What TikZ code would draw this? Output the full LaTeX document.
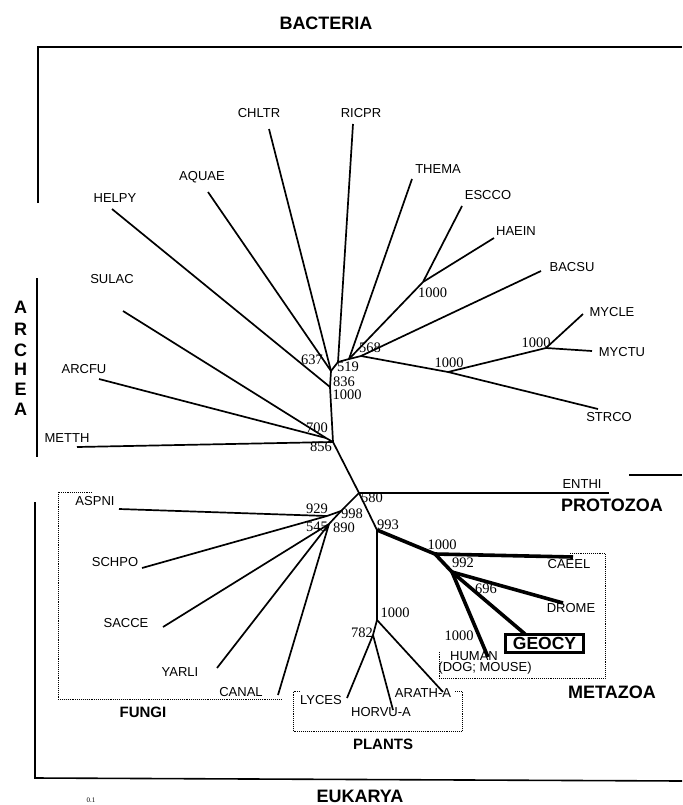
\documentclass[tikz,border=0pt]{standalone}
\usepackage{fontspec}
\setmainfont{Liberation Sans}
\newfontfamily\numfont{Liberation Serif}
\begin{document}
\begin{tikzpicture}[x=1pt,y=-1pt,
  br/.style={line width=1.7pt},
  thk/.style={line width=3.6pt},
  frame/.style={line width=1.6pt},
  dbox/.style={line width=0.8pt, dash pattern=on 0.8pt off 1.1pt},
  taxon/.style={inner sep=0pt, font=\fontsize{13}{13}\selectfont},
  boot/.style={inner sep=0pt, font=\numfont\fontsize{14.5}{14.5}\selectfont},
  grp/.style={inner sep=0pt, font=\bfseries\fontsize{18}{18}\selectfont},
  sub/.style={inner sep=0pt, font=\bfseries\fontsize{15}{15}\selectfont},
]
\useasboundingbox (0,0) rectangle (682,805);

% ---------- frames ----------
\coordinate (bA) at (38,203); \coordinate (bB) at (38,47); \coordinate (bC) at (682,47);
\draw[frame] (bA) -- (bB) -- (bC);
\coordinate (aA) at (37,278); \coordinate (aB) at (37,457);
\draw[frame] (aA) -- (aB);
\coordinate (eA) at (35,502); \coordinate (eB) at (35,778); \coordinate (eC) at (682,781);
\draw[frame] (eA) -- (eB) -- (eC);
\coordinate (pA) at (629,475); \coordinate (pB) at (682,475);
\draw[frame] (pA) -- (pB);

% dotted group boxes
\coordinate (f1) at (92,492); \coordinate (f2) at (58,492); \coordinate (f3) at (58,699); \coordinate (f4) at (282,699);
\draw[dbox] (f1) -- (f2) -- (f3) -- (f4);
\coordinate (p1) at (300,691); \coordinate (p2) at (293,691); \coordinate (p3) at (293,731);
\coordinate (p4) at (462,731); \coordinate (p5) at (462,691); \coordinate (p6) at (455,691);
\draw[dbox] (p1) -- (p2) -- (p3) -- (p4) -- (p5) -- (p6);
\coordinate (m1) at (570,553); \coordinate (m2) at (605,553); \coordinate (m3) at (605,678);
\coordinate (m4) at (439,678); \coordinate (m5) at (439,652);
\draw[dbox] (m1) -- (m2) -- (m3) -- (m4) -- (m5);

% ---------- internal nodes ----------
\coordinate (n836) at (330,387);
\coordinate (n637) at (331,371);
\coordinate (n519) at (338,362);
\coordinate (nx)   at (349,359);
\coordinate (n568) at (361,356);
\coordinate (nEH)  at (423,282);
\coordinate (nSM)  at (448,372);
\coordinate (nMY)  at (546,348);
\coordinate (n856) at (333,442);
\coordinate (n700) at (326,438);
\coordinate (n580) at (359,493);
\coordinate (n998) at (341,511);
\coordinate (n929) at (327,516);
\coordinate (n545) at (329,524);
\coordinate (n993) at (377,530);
\coordinate (nP)   at (377,620);
\coordinate (n782) at (373,635);
\coordinate (nM)   at (435,554);
\coordinate (n992) at (452,572);

% ---------- leaf ends ----------
\coordinate (lHELPY) at (112,209);
\coordinate (lAQUAE) at (208,192);
\coordinate (lCHLTR) at (269,129);
\coordinate (lRICPR) at (353,124);
\coordinate (lTHEMA) at (412,179);
\coordinate (lESCCO) at (462,206);
\coordinate (lHAEIN) at (494,238);
\coordinate (lBACSU) at (541,271);
\coordinate (lMYCLE) at (583,314);
\coordinate (lMYCTU) at (592,351);
\coordinate (lSTRCO) at (598,409);
\coordinate (lSULAC) at (123,311);
\coordinate (lARCFU) at (99,379);
\coordinate (lMETTH) at (77,447);
\coordinate (lENTHI) at (609,493);
\coordinate (lASPNI) at (119,509);
\coordinate (lSCHPO) at (142,568);
\coordinate (lSACCE) at (163,627);
\coordinate (lYARLI) at (217,668);
\coordinate (lCANAL) at (278,695);
\coordinate (lLYCES) at (347,698);
\coordinate (lHORVU) at (393,710);
\coordinate (lARATH) at (443,692);
\coordinate (lCAEEL) at (573,557);
\coordinate (lDROME) at (563,603);
\coordinate (lGEOCY) at (525,634);
\coordinate (lHUMAN) at (488,657);

% ---------- branches ----------
\draw[br] (lHELPY) -- (n836);
\draw[br] (lAQUAE) -- (n637);
\draw[br] (lCHLTR) -- (n637);
\draw[br] (n637) -- (n836);
\draw[br] (n637) -- (n519);
\draw[br] (lRICPR) -- (n519);
\draw[br] (n519) -- (nx) -- (n568);
\draw[br] (lTHEMA) -- (nx);
\draw[br] (nEH) -- (nx);
\draw[br] (lESCCO) -- (nEH);
\draw[br] (lHAEIN) -- (nEH);
\draw[br] (lBACSU) -- (n568);
\draw[br] (n568) -- (nSM);
\draw[br] (nSM) -- (lSTRCO);
\draw[br] (nSM) -- (nMY);
\draw[br] (nMY) -- (lMYCLE);
\draw[br] (nMY) -- (lMYCTU);
\draw[br] (n836) -- (n856);
\draw[br] (lSULAC) -- (n700);
\draw[br] (lARCFU) -- (n700);
\draw[br] (n700) -- (n856);
\draw[br] (lMETTH) -- (n856);
\draw[br] (n856) -- (n580);
\draw[br] (n580) -- (lENTHI);
\draw[br] (n580) -- (n998) -- (n545);
\draw[br] (n998) -- (n929);
\draw[br] (lASPNI) -- (n929);
\draw[br] (lSCHPO) -- (n929);
\draw[br] (n545) -- (lSACCE);
\draw[br] (n545) -- (lYARLI);
\draw[br] (n545) -- (lCANAL);
\draw[br] (n580) -- (n993);
\draw[br] (n993) -- (nP);
\draw[br] (nP) -- (n782);
\draw[br] (n782) -- (lLYCES);
\draw[br] (n782) -- (lHORVU);
\draw[br] (nP) -- (lARATH);
\draw[thk] (n993) -- (nM);
\draw[thk] (nM) -- (lCAEEL);
\draw[thk] (nM) -- (n992);
\draw[thk] (n992) -- (lDROME);
\draw[thk] (n992) -- (lGEOCY);
\draw[thk] (n992) -- (lHUMAN);

% ---------- taxon labels ----------
\node[taxon] (tCHLTR) at (259,113) {CHLTR};
\node[taxon] (tRICPR) at (361,113) {RICPR};
\node[taxon] (tAQUAE) at (202,177) {AQUAE};
\node[taxon] (tTHEMA) at (438,169) {THEMA};
\node[taxon] (tESCCO) at (488,195) {ESCCO};
\node[taxon] (tHAEIN) at (516,231) {HAEIN};
\node[taxon] (tHELPY) at (115,198) {HELPY};
\node[taxon] (tBACSU) at (572,267) {BACSU};
\node[taxon] (tSULAC) at (112,279) {SULAC};
\node[taxon] (tMYCLE) at (612,312) {MYCLE};
\node[taxon] (tMYCTU) at (622,352) {MYCTU};
\node[taxon] (tARCFU) at (84,369) {ARCFU};
\node[taxon] (tSTRCO) at (609,417) {STRCO};
\node[taxon] (tMETTH) at (67,438) {METTH};
\node[taxon] (tENTHI) at (582,484) {ENTHI};
\node[taxon] (tASPNI) at (95,501) {ASPNI};
\node[taxon] (tSCHPO) at (115,562) {SCHPO};
\node[taxon] (tSACCE) at (126,623) {SACCE};
\node[taxon] (tYARLI) at (180,672) {YARLI};
\node[taxon] (tCANAL) at (241,692) {CANAL};
\node[taxon] (tLYCES) at (321,700) {LYCES};
\node[taxon] (tHORVU) at (381,712) {HORVU-A};
\node[taxon] (tARATH) at (423,693) {ARATH-A};
\node[taxon] (tHUMAN) at (474,656) {HUMAN};
\node[taxon] (tDOG)   at (485,668) {(DOG; MOUSE)};
\node[taxon] (tCAEEL) at (569,564) {CAEEL};
\node[taxon] (tDROME) at (571,608) {DROME};
\node[draw, line width=2.8pt, minimum width=78pt, minimum height=18pt, inner sep=0pt,
      font=\bfseries\fontsize{17.5}{17.5}\selectfont] (tGEOCY) at (544.5,643.5) {GEOCY};

% ---------- bootstrap values ----------
\node[boot] (b637) at (312,360) {637};
\node[boot] (b519) at (348,367) {519};
\node[boot] (b568) at (370,348) {568};
\node[boot] (b836) at (344,382) {836};
\node[boot] (b1000a) at (347,395) {1000};
\node[boot] (b1000b) at (432.5,293) {1000};
\node[boot] (b1000c) at (536,343) {1000};
\node[boot] (b1000d) at (449,363) {1000};
\node[boot] (b700) at (317,428) {700};
\node[boot] (b856) at (321,447) {856};
\node[boot] (b580) at (372,498) {580};
\node[boot] (b929) at (317,509) {929};
\node[boot] (b998) at (352,514) {998};
\node[boot] (b545) at (317,527) {545};
\node[boot] (b890) at (344,528) {890};
\node[boot] (b993) at (388,525) {993};
\node[boot] (b1000e) at (442,545) {1000};
\node[boot] (b992) at (463,563) {992};
\node[boot] (b696) at (486,589) {696};
\node[boot] (b1000f) at (459,636) {1000};
\node[boot] (b1000g) at (395,613) {1000};
\node[boot] (b782) at (362,633) {782};

% ---------- group labels ----------
\node[grp] (gBAC) at (326,23) {BACTERIA};
\node[grp] (gPRO) at (612,505) {PROTOZOA};
\node[grp] (gMET) at (612,692) {METAZOA};
\node[grp] (gEUK) at (360,796) {EUKARYA};
\node[sub] (gFUN) at (143,712) {FUNGI};
\node[sub] (gPLA) at (383,744) {PLANTS};
\node[grp] (gA1) at (20.7,307.7) {A};
\node[grp] (gA2) at (20.7,329) {R};
\node[grp] (gA3) at (20.7,350) {C};
\node[grp] (gA4) at (20.7,369.5) {H};
\node[grp] (gA5) at (20.7,389.5) {E};
\node[grp] (gA6) at (20.7,409.5) {A};
\node[inner sep=0pt, font=\numfont\fontsize{7}{7}\selectfont] (scale) at (91,800) {0.1};
\end{tikzpicture}
\end{document}
